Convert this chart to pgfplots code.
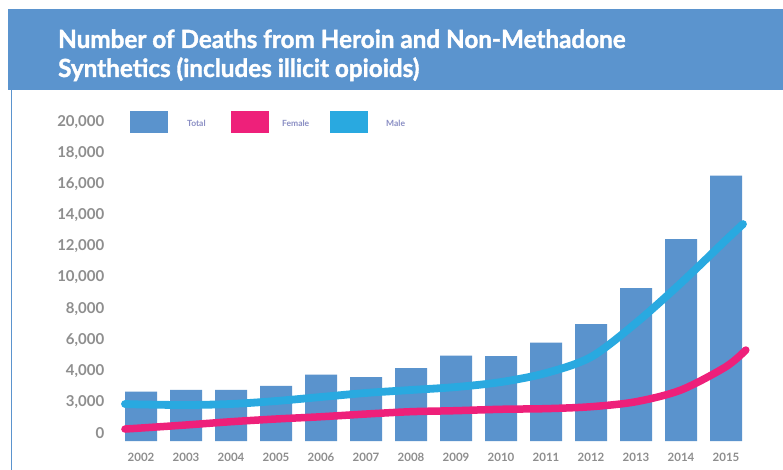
\documentclass[border=0pt]{standalone}
\usepackage{pgfplots}
\pgfplotsset{compat=1.18}
\usepackage{fontspec}
\setmainfont{Lato}
\newfontfamily\titlefont[FakeStretch=0.97, BoldFeatures={FakeBold=1.5}]{Lato}
\definecolor{barblue}{HTML}{5A93CD}
\definecolor{bannerblue}{HTML}{5B94CE}
\definecolor{femalepink}{HTML}{EE207A}
\definecolor{malecyan}{HTML}{29A9E0}
\definecolor{ticky}{HTML}{8E8E8E}
\definecolor{legtext}{HTML}{8A8EC4}
\begin{document}
\begin{tikzpicture}[x=1pt,y=1pt]
\useasboundingbox (0,0) rectangle (783,-470);
\fill[white] (0,0) rectangle (783,-470);
\fill[bannerblue] (8,-9) rectangle (783,-90.5);
\fill[bannerblue] (10.5,-90.5) rectangle (11.5,-470);
\node[anchor=base west, inner sep=0, text=white, font=\titlefont\bfseries\fontsize{25}{29}\selectfont] at (58,-48) {Number of Deaths from Heroin and Non-Methadone};
\node[anchor=base west, inner sep=0, text=white, font=\titlefont\bfseries\fontsize{25}{29}\selectfont] at (58,-77) {Synthetics (includes illicit opioids)};
% legend
\fill[barblue] (130,-111) rectangle (168,-133);
\node[anchor=west, inner sep=0, text=legtext, font=\bfseries\fontsize{8.5}{10}\selectfont] at (187,-123) {Total};
\fill[femalepink] (231,-111) rectangle (269,-133);
\node[anchor=west, inner sep=0, text=legtext, font=\bfseries\fontsize{8.5}{10}\selectfont] at (282,-123) {Female};
\fill[malecyan] (330,-111) rectangle (368,-133);
\node[anchor=west, inner sep=0, text=legtext, font=\bfseries\fontsize{8.5}{10}\selectfont] at (386,-123) {Male};
\begin{axis}[
  at={(118.5pt,-441pt)}, anchor=south west,
  scale only axis, width=630pt, height=318.8pt,
  xmin=-0.5, xmax=13.5, ymin=0, ymax=20500,
  scaled y ticks=false,
  axis line style={draw=none}, tick style={draw=none},
  clip=false,
  xtick={0,...,13},
  xticklabels={2002,2003,2004,2005,2006,2007,2008,2009,2010,2011,2012,2013,2014,2015},
  ytick={0,2000,4000,6000,8000,10000,12000,14000,16000,18000,20000},
  yticklabels={0,{3,000},{4,000},{6,000},{8,000},{10,000},{12,000},{14,000},{16,000},{18,000},{20,000}},
  xticklabel style={anchor=base, inner sep=0pt, yshift=-20pt, text=ticky, font=\bfseries\fontsize{11.5}{12}\selectfont},
  yticklabel style={anchor=east, inner sep=0pt, xshift=-14pt, yshift=8pt, text=ticky, font=\bfseries\fontsize{15}{16}\selectfont},
]
\addplot[ybar, bar width=32pt, fill=barblue, draw=none] coordinates {
(0,3170) (1,3280) (2,3280) (3,3537) (4,4263) (5,4115) (6,4694) (7,5485) (8,5466) (9,6321) (10,7523) (11,9838) (12,12989) (13,17059)};
\addplot[femalepink, line width=7.5pt, line cap=round, smooth, tension=0.5] coordinates {
(-0.356,770) (0,835) (1,1030) (2,1240) (3,1415) (4,1560) (5,1735) (6,1885) (7,1950) (8,2040) (9,2080) (10,2205) (11,2525) (12,3280) (13,4780) (13.44,5850)};
\addplot[malecyan, line width=7.8pt, line cap=round, smooth, tension=0.5] coordinates {
(-0.356,2380) (0,2350) (1,2315) (2,2380) (3,2570) (4,2830) (5,3090) (6,3280) (7,3470) (8,3790) (9,4370) (10,5400) (11,7590) (12,10160) (13,12925) (13.378,13950)};
\end{axis}
\end{tikzpicture}
\end{document}
